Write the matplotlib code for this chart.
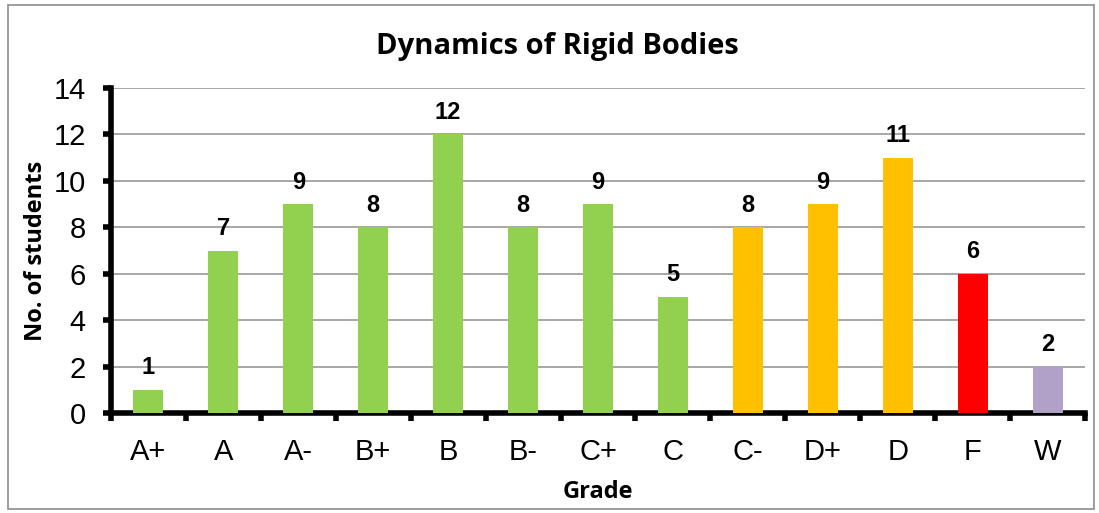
import numpy as np
import matplotlib.pyplot as plt
import matplotlib as mpl

plt.rcParams['font.family'] = ['Liberation Sans', 'DejaVu Sans']

grades = ["A+", "A", "A-", "B+", "B", "B-", "C+", "C", "C-", "D+", "D", "F", "W"]
counts = [1, 7, 9, 8, 12, 8, 9, 5, 8, 9, 11, 6, 2]
colors = ["#92D050"] * 8 + ["#FFC000"] * 3 + ["#FF0000", "#B1A0C7"]

fig = plt.figure(figsize=(10.99, 5.13), dpi=100)
fig.patches.append(mpl.patches.Rectangle((0.007, 0.008), 0.988, 0.982, transform=fig.transFigure,
                                         fill=False, edgecolor="#8c8c8c", linewidth=1.2))
ax = fig.add_axes([111 / 1099, 1 - 413 / 513, (1085 - 111) / 1099, (413 - 88) / 513])

x = np.arange(len(grades))
ax.bar(x, counts, width=0.4, color=colors, zorder=3)
for xi, c in zip(x, counts):
    ax.text(xi, c + 0.45, str(c), ha="center", va="bottom", fontsize=17, fontweight="bold")

ax.set_xlim(-0.5, len(grades) - 0.5)
ax.set_ylim(0, 14)
ax.set_yticks(range(0, 15, 2))
ax.yaxis.grid(True, color="#a0a0a0", linewidth=1.3, zorder=0)
ax.set_xticks(np.arange(-0.5, len(grades), 1.0))
ax.set_xticklabels([])
ax.set_xticks(x, minor=True)
ax.set_xticklabels(grades, minor=True)
ax.tick_params(axis="x", which="minor", length=0, labelsize=21, pad=18)
ax.tick_params(axis="x", which="major", length=6, width=4, direction="out")
ax.tick_params(axis="y", length=6, width=4, direction="out", labelsize=21, pad=12)

for s in ["top", "right"]:
    ax.spines[s].set_visible(False)
for s in ["left", "bottom"]:
    ax.spines[s].set_linewidth(4)

fig.text(557 / 1099, 1 - 47 / 513, "Dynamics of Rigid Bodies", family="Open Sans",
         fontweight="bold", fontsize=21, ha="center", va="center")
ax.set_ylabel("No. of students", family="Open Sans", fontweight="bold", fontsize=17, labelpad=4)
ax.set_xlabel("Grade", family="Open Sans", fontweight="bold", fontsize=17, labelpad=10)

plt.savefig("out.png", dpi=100)
